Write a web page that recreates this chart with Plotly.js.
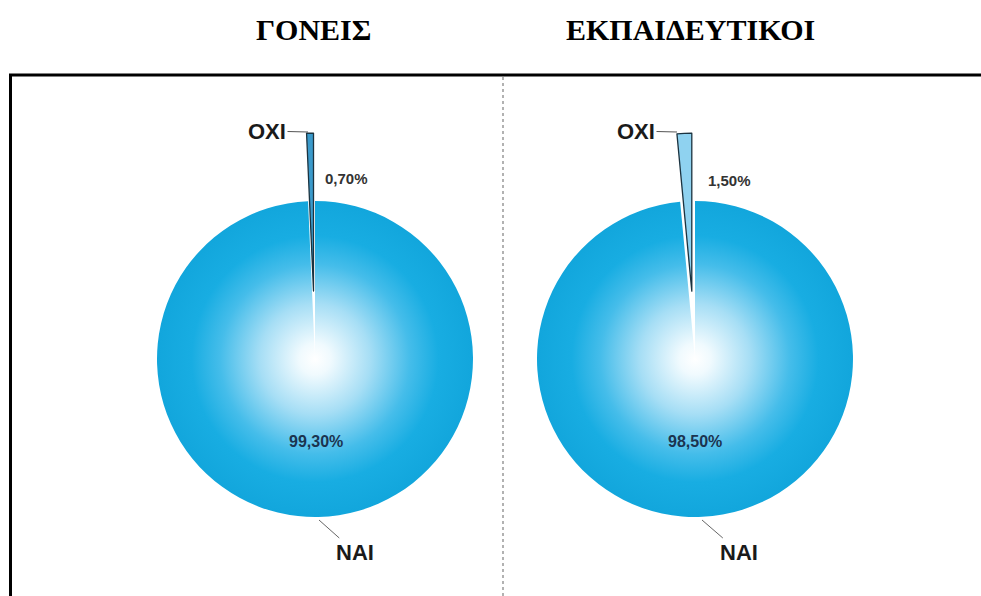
<!DOCTYPE html>
<html>
<head>
<meta charset="utf-8">
<script src="https://cdn.plot.ly/plotly-3.0.1.min.js"></script>
<style>html,body{margin:0;padding:0;background:#fff;}#chart{width:981px;height:596px;}</style>
</head>
<body>
<div id="chart"></div>
<script>
// ---- data ----
const categories = ['OXI', 'NAI'];
const goneisValues = [0.7, 99.3];
const ekpaideutikoiValues = [1.5, 98.5];
const panelTitles = ['ΓΟΝΕΙΣ', 'ΕΚΠΑΙΔΕΥΤΙΚΟΙ'];

// ---- helpers ----
const W = 981, H = 596;
const px = x => x / W;
const py = y => 1 - y / H;
const fmt = v => v.toFixed(2).replace('.', ',') + '%';

const R = 158, PULL = 0.43;
const half = R * (1 + PULL);
function dom(cx, cy) {
  return { x: [px(cx - half), px(cx + half)], y: [py(cy + half), py(cy - half)] };
}
const centers = [[315, 359], [695, 359]];
const sliceColors = [['#3a9acb', '#16aae0'], ['#8fd2f0', '#16aae0']];
const seriesList = [goneisValues, ekpaideutikoiValues];

const traces = seriesList.map((vals, k) => ({
  type: 'pie',
  labels: categories,
  values: vals,
  sort: false,
  direction: 'clockwise',
  rotation: -vals[0] / (vals[0] + vals[1]) * 360,
  pull: [PULL, 0],
  textinfo: 'none',
  hoverinfo: 'skip',
  showlegend: false,
  domain: dom(centers[k][0], centers[k][1]),
  marker: { colors: sliceColors[k], line: { color: ['#1b3340', 'rgba(0,0,0,0)'], width: [1.3, 0] } }
}));

const annotations = [];
const base = { xref: 'paper', yref: 'paper', xanchor: 'center', yanchor: 'middle' };
// titles
annotations.push(Object.assign({}, base, { x: px(313), y: py(30), text: '<b>' + panelTitles[0] + '</b>', showarrow: false,
  font: { family: 'Liberation Serif', size: 30, color: '#000' } }));
annotations.push(Object.assign({}, base, { x: px(690), y: py(30), text: '<b>' + panelTitles[1] + '</b>', showarrow: false,
  font: { family: 'Liberation Serif', size: 30, color: '#000' } }));

const oxiPts = [[308, 132, -41, -1], [677, 132, -41, -1]];
const naiPts = [[319, 520, 36, 32], [702, 520, 37, 32]];
const smallPct = [[346, 178], [729, 180]];
const bigPct = [[316, 441], [695, 441]];
seriesList.forEach((vals, k) => {
  annotations.push(Object.assign({}, base, { x: px(oxiPts[k][0]), y: py(oxiPts[k][1]), text: '<b>' + categories[0] + '</b>',
    showarrow: true, arrowhead: 0, arrowwidth: 1, arrowcolor: '#555', ax: oxiPts[k][2], ay: oxiPts[k][3], standoff: 0,
    font: { family: 'Liberation Sans', size: 22, color: '#1a1a1a' } }));
  annotations.push(Object.assign({}, base, { x: px(naiPts[k][0]), y: py(naiPts[k][1]), text: '<b>' + categories[1] + '</b>',
    showarrow: true, arrowhead: 0, arrowwidth: 1, arrowcolor: '#666', ax: naiPts[k][2], ay: naiPts[k][3], standoff: 0,
    font: { family: 'Liberation Sans', size: 22, color: '#1a1a1a' } }));
  annotations.push(Object.assign({}, base, { x: px(smallPct[k][0]), y: py(smallPct[k][1]), text: '<b>' + fmt(vals[0]) + '</b>',
    showarrow: false, font: { family: 'Liberation Sans Narrow, Liberation Sans', size: 15, color: '#333' } }));
  annotations.push(Object.assign({}, base, { x: px(bigPct[k][0]), y: py(bigPct[k][1]), text: '<b>' + fmt(vals[1]) + '</b>',
    showarrow: false, font: { family: 'Liberation Sans Narrow, Liberation Sans', size: 16, color: '#1b3450' } }));
});

const shapes = [
  { type: 'line', xref: 'paper', yref: 'paper', x0: px(9), x1: 1, y0: py(75), y1: py(75), line: { color: '#000', width: 3 } },
  { type: 'line', xref: 'paper', yref: 'paper', x0: px(10.5), x1: px(10.5), y0: py(74), y1: 0, line: { color: '#000', width: 3 } },
  { type: 'line', xref: 'paper', yref: 'paper', x0: px(503), x1: px(503), y0: py(77), y1: 0, line: { color: '#999', width: 1.5, dash: 'dot' } }
];

const layout = {
  width: W, height: H, margin: { l: 0, r: 0, t: 0, b: 0 },
  paper_bgcolor: '#fff', plot_bgcolor: '#fff',
  annotations, shapes, showlegend: false
};

Plotly.newPlot('chart', traces, layout, { staticPlot: true, displayModeBar: false }).then(() => {
  const svg = document.querySelector('#chart svg.main-svg');
  const ns = 'http://www.w3.org/2000/svg';
  let defs = svg.querySelector('defs');
  if (!defs) { defs = document.createElementNS(ns, 'defs'); svg.insertBefore(defs, svg.firstChild); }
  const g = document.createElementNS(ns, 'radialGradient');
  g.setAttribute('id', 'pieGrad');
  g.setAttribute('cx', '0.5'); g.setAttribute('cy', '0.5'); g.setAttribute('r', '0.5');
  [[0, '#ffffff'], [0.1, '#f0fafe'], [0.35, '#a6def5'], [0.6, '#45bdea'], [0.78, '#18ade2'], [1, '#12a6dc']].forEach(([o, c]) => {
    const s = document.createElementNS(ns, 'stop');
    s.setAttribute('offset', o); s.setAttribute('stop-color', c);
    g.appendChild(s);
  });
  defs.appendChild(g);
  document.querySelectorAll('#chart .pielayer .trace').forEach(tr => {
    const slices = tr.querySelectorAll('g.slice');
    if (slices[1]) {
      const p = slices[1].querySelector('path.surface');
      if (p) p.style.fill = 'url(#pieGrad)';
    }
  });
});
</script>
</body>
</html>
